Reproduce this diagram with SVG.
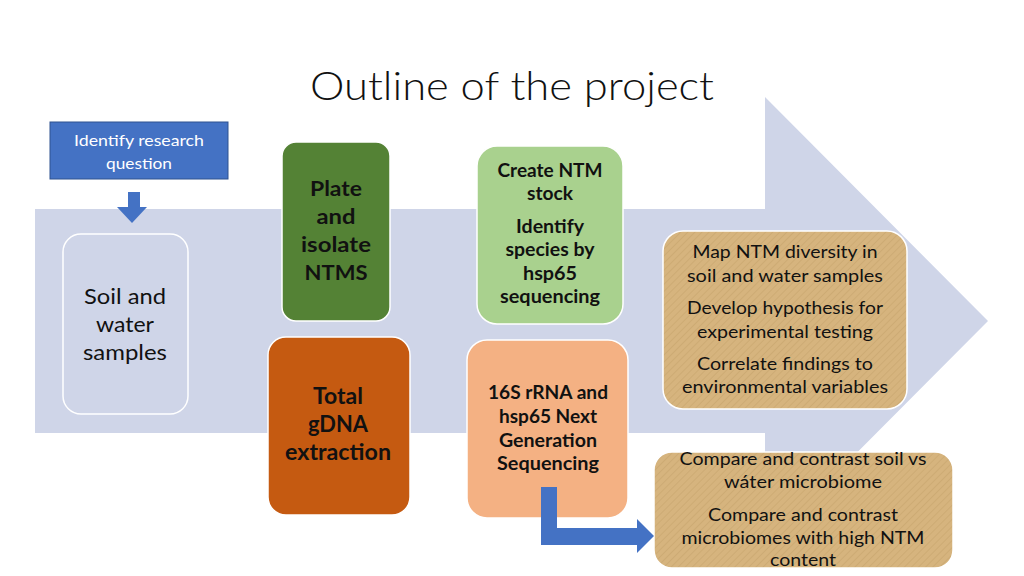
<svg xmlns="http://www.w3.org/2000/svg" width="1024" height="576" viewBox="0 0 1024 576">
<defs>
<pattern id="hatch" width="5" height="5" patternUnits="userSpaceOnUse" patternTransform="rotate(45)">
<rect width="5" height="5" fill="#D6B47E"/>
<line x1="0" y1="0" x2="0" y2="5" stroke="#CAA870" stroke-width="1.5"/>
</pattern>
<style>
.t{font-family:Lato,"Open Sans","Liberation Sans",sans-serif;text-anchor:middle;fill:#111}
.b{font-weight:bold}
.w{fill:#ffffff}
.box{stroke:#ffffff;stroke-width:1.5}
.blue{fill:#4472C4}
</style>
</defs>
<rect width="1024" height="576" fill="#ffffff"/>
<!-- big background arrow -->
<polygon points="35,209 765,209 765,97 988,321 765,545 765,433 35,433" fill="#CFD5E8"/>
<text class="t" x="512" y="100" font-size="40" font-weight="300" textLength="404" lengthAdjust="spacingAndGlyphs">Outline of the project</text>

<g id="n-question">
<rect x="50" y="122" width="178" height="57" fill="#4472C4" stroke="#2F528F" stroke-width="1"/>
<text class="t w" x="139" y="146" font-size="16" textLength="130" lengthAdjust="spacingAndGlyphs">Identify research</text>
<text class="t w" x="139" y="169" font-size="16" textLength="66" lengthAdjust="spacingAndGlyphs">question</text>
</g>

<g id="n-samples">
<rect class="box" x="63" y="234" width="125" height="180" rx="18" fill="#CFD5E8"/>
<text class="t" x="125" y="304" font-size="22" textLength="82" lengthAdjust="spacingAndGlyphs">Soil and</text>
<text class="t" x="125" y="332" font-size="22" textLength="58" lengthAdjust="spacingAndGlyphs">water</text>
<text class="t" x="125" y="360" font-size="22" textLength="84" lengthAdjust="spacingAndGlyphs">samples</text>
</g>

<g id="n-plate">
<rect class="box" x="282" y="142" width="108" height="179" rx="14" fill="#548235"/>
<text class="t b" x="336" y="196" font-size="21" textLength="52" lengthAdjust="spacingAndGlyphs">Plate</text>
<text class="t b" x="336" y="224" font-size="21" textLength="39" lengthAdjust="spacingAndGlyphs">and</text>
<text class="t b" x="336" y="252" font-size="21" textLength="70" lengthAdjust="spacingAndGlyphs">isolate</text>
<text class="t b" x="336" y="280" font-size="21" textLength="63" lengthAdjust="spacingAndGlyphs">NTMS</text>
</g>

<g id="n-stock">
<rect class="box" x="477" y="146" width="146" height="178" rx="20" fill="#A9D18E"/>
<text class="t b" x="550" y="177" font-size="18" textLength="105" lengthAdjust="spacingAndGlyphs">Create NTM</text>
<text class="t b" x="550" y="200" font-size="18" textLength="46" lengthAdjust="spacingAndGlyphs">stock</text>
<text class="t b" x="550" y="233" font-size="18" textLength="68" lengthAdjust="spacingAndGlyphs">Identify</text>
<text class="t b" x="550" y="256" font-size="18" textLength="89" lengthAdjust="spacingAndGlyphs">species by</text>
<text class="t b" x="550" y="280" font-size="18" textLength="54" lengthAdjust="spacingAndGlyphs">hsp65</text>
<text class="t b" x="550" y="303" font-size="18" textLength="100" lengthAdjust="spacingAndGlyphs">sequencing</text>
</g>

<g id="n-gdna">
<rect class="box" x="268" y="337" width="142" height="178" rx="18" fill="#C55A11"/>
<text class="t b" x="338" y="404" font-size="22" textLength="50" lengthAdjust="spacingAndGlyphs">Total</text>
<text class="t b" x="338" y="432" font-size="22" textLength="60" lengthAdjust="spacingAndGlyphs">gDNA</text>
<text class="t b" x="338" y="460" font-size="22" textLength="106" lengthAdjust="spacingAndGlyphs">extraction</text>
</g>

<g id="n-ngs">
<rect class="box" x="467" y="340" width="161" height="178" rx="20" fill="#F4B183"/>
<text class="t b" x="548" y="399" font-size="18" textLength="120" lengthAdjust="spacingAndGlyphs">16S rRNA and</text>
<text class="t b" x="548" y="423" font-size="18" textLength="98" lengthAdjust="spacingAndGlyphs">hsp65 Next</text>
<text class="t b" x="548" y="447" font-size="18" textLength="98" lengthAdjust="spacingAndGlyphs">Generation</text>
<text class="t b" x="548" y="470" font-size="18" textLength="102" lengthAdjust="spacingAndGlyphs">Sequencing</text>
</g>

<g id="n-map">
<rect class="box" x="663" y="231" width="244" height="178" rx="20" fill="url(#hatch)"/>
<text class="t" x="785" y="258" font-size="18" textLength="185" lengthAdjust="spacingAndGlyphs">Map NTM diversity in</text>
<text class="t" x="785" y="282" font-size="18" textLength="196" lengthAdjust="spacingAndGlyphs">soil and water samples</text>
<text class="t" x="785" y="314" font-size="18" textLength="196" lengthAdjust="spacingAndGlyphs">Develop hypothesis for</text>
<text class="t" x="785" y="338" font-size="18" textLength="176" lengthAdjust="spacingAndGlyphs">experimental testing</text>
<text class="t" x="785" y="370" font-size="18" textLength="176" lengthAdjust="spacingAndGlyphs">Correlate findings to</text>
<text class="t" x="785" y="393" font-size="18" textLength="206" lengthAdjust="spacingAndGlyphs">environmental variables</text>
</g>

<g id="n-compare">
<rect class="box" x="654" y="452" width="299" height="116" rx="18" fill="url(#hatch)"/>
<text class="t" x="803" y="465" font-size="17" textLength="247" lengthAdjust="spacingAndGlyphs">Compare and contrast soil vs</text>
<text class="t" x="803" y="488" font-size="17" textLength="158" lengthAdjust="spacingAndGlyphs">wáter microbiome</text>
<text class="t" x="803" y="521" font-size="17" textLength="190" lengthAdjust="spacingAndGlyphs">Compare and contrast</text>
<text class="t" x="803" y="544" font-size="17" textLength="243" lengthAdjust="spacingAndGlyphs">microbiomes with high NTM</text>
<text class="t" x="803" y="566" font-size="17" textLength="66" lengthAdjust="spacingAndGlyphs">content</text>
</g>

<g id="connectors">
<polygon class="blue" points="128,192 140,192 140,207 147,207 132,223 117,207 128,207"/>
<polygon class="blue" points="541,487 557,487 557,528 637,528 637,519 654,536 637,553 637,545 541,545"/>
</g>
</svg>
